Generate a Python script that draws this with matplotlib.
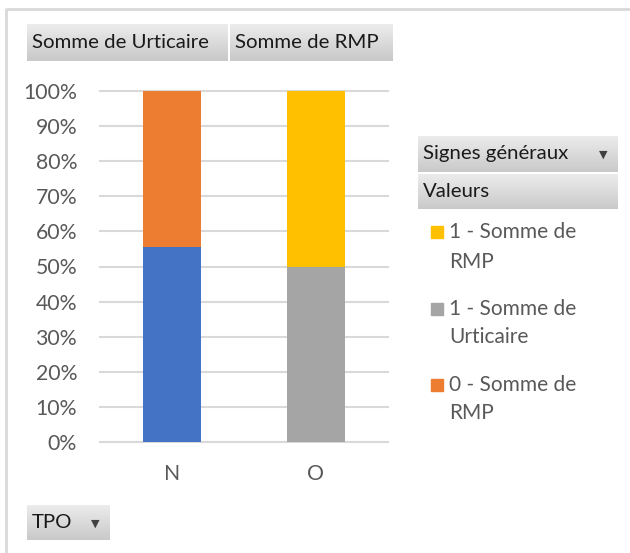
import numpy as np
import matplotlib
matplotlib.use('Agg')
import matplotlib.pyplot as plt
from matplotlib.patches import Rectangle

# pivot chart: share of each series per TPO value
categories = ['N', 'O']
series_names = ['0 - Somme de Urticaire', '0 - Somme de RMP',
                '1 - Somme de Urticaire', '1 - Somme de RMP']
urticaire_0 = [55.6, 0.0]
rmp_0 = [44.4, 0.0]
urticaire_1 = [0.0, 50.0]
rmp_1 = [0.0, 50.0]
series_colors = ['#4472C4', '#ED7D31', '#A5A5A5', '#FFC000']
tick_values = [0, 10, 20, 30, 40, 50, 60, 70, 80, 90, 100]

plt.rcParams['font.family'] = ['Lato', 'DejaVu Sans']

W, H = 630, 553
fig = plt.figure(figsize=(W / 100, H / 100), dpi=100)


def box(x0, y0, x1, y1):
    # pixel box (origin top-left) -> figure fraction rect
    return [x0 / W, 1 - y1 / H, (x1 - x0) / W, (y1 - y0) / H]


def field_button(x0, y0, x1, y1, label, arrow=False):
    bax = fig.add_axes(box(x0, y0, x1, y1))
    grad = np.linspace(0, 1, 50).reshape(-1, 1)
    bax.imshow(grad, aspect='auto', cmap=plt.matplotlib.colors.LinearSegmentedColormap.from_list(
        'btn', ['#ececec', '#c9c9c9']), extent=[0, 1, 0, 1], origin='upper')
    bax.set_xlim(0, 1)
    bax.set_ylim(0, 1)
    bax.axis('off')
    fig.text((x0 + 5) / W, 1 - (y0 + y1) / 2 / H, label, fontsize=14.7,
             color='#1a1a1a', va='center', ha='left')
    if arrow:
        ax_x = (x1 - 15) / W
        ax_y = 1 - ((y0 + y1) / 2 + 1) / H
        fig.text(ax_x, ax_y, '\u25BC', fontsize=8, color='#404040',
                 va='center', ha='center', family='DejaVu Sans')


# outer chart frame (left and top edges)
frame = fig.add_axes([0, 0, 1, 1], zorder=-5)
frame.set_xlim(0, W)
frame.set_ylim(H, 0)
frame.axis('off')
frame.plot([6, 6, W], [H, 9, 9], color='#d9d9d9', lw=2, solid_capstyle='butt')

# plot area
ax = fig.add_axes(box(100, 91, 388, 442))
x = np.arange(len(categories))
bottom = np.zeros(len(categories))
for vals, color in zip([urticaire_0, rmp_0, urticaire_1, rmp_1], series_colors):
    vals = np.array(vals)
    ax.bar(x, vals, 0.4, bottom=bottom, color=color, zorder=3)
    bottom += vals

ax.set_xlim(-0.5, 1.5)
ax.set_ylim(0, 100)
for t in tick_values:
    ax.axhline(t, color='#d9d9d9', lw=1.5, zorder=1, clip_on=False)
ax.set_yticks(tick_values)
ax.set_yticklabels([f'{t}%' for t in tick_values])
ax.set_xticks(x)
ax.set_xticklabels(categories)
ax.tick_params(length=0, labelsize=15.3, labelcolor='#595959')
ax.tick_params(axis='y', pad=16.5)
ax.tick_params(axis='x', pad=16)
for s in ax.spines.values():
    s.set_visible(False)

# field buttons
field_button(27, 24, 228, 61, 'Somme de Urticaire')
field_button(230, 24, 393, 61, 'Somme de RMP')
field_button(418, 136, 618, 172, 'Signes généraux', arrow=True)
field_button(418, 174, 618, 209, 'Valeurs')
field_button(27, 505, 110, 540, 'TPO', arrow=True)

# legend (reverse order, first series does not fit)
legend_rows = [(232, 262), (309, 337), (385, 413)]
for (y_a, y_b), name, color in zip(legend_rows, series_names[::-1], series_colors[::-1]):
    frame.add_patch(Rectangle((431, y_a - 6), 12, 12, color=color))
    first, second = name.rsplit(' ', 1)
    frame.text(449, y_a, first, fontsize=15, color='#595959', va='center', ha='left')
    frame.text(449, y_b, second, fontsize=15, color='#595959', va='center', ha='left')

fig.savefig('out.png', dpi=100)
